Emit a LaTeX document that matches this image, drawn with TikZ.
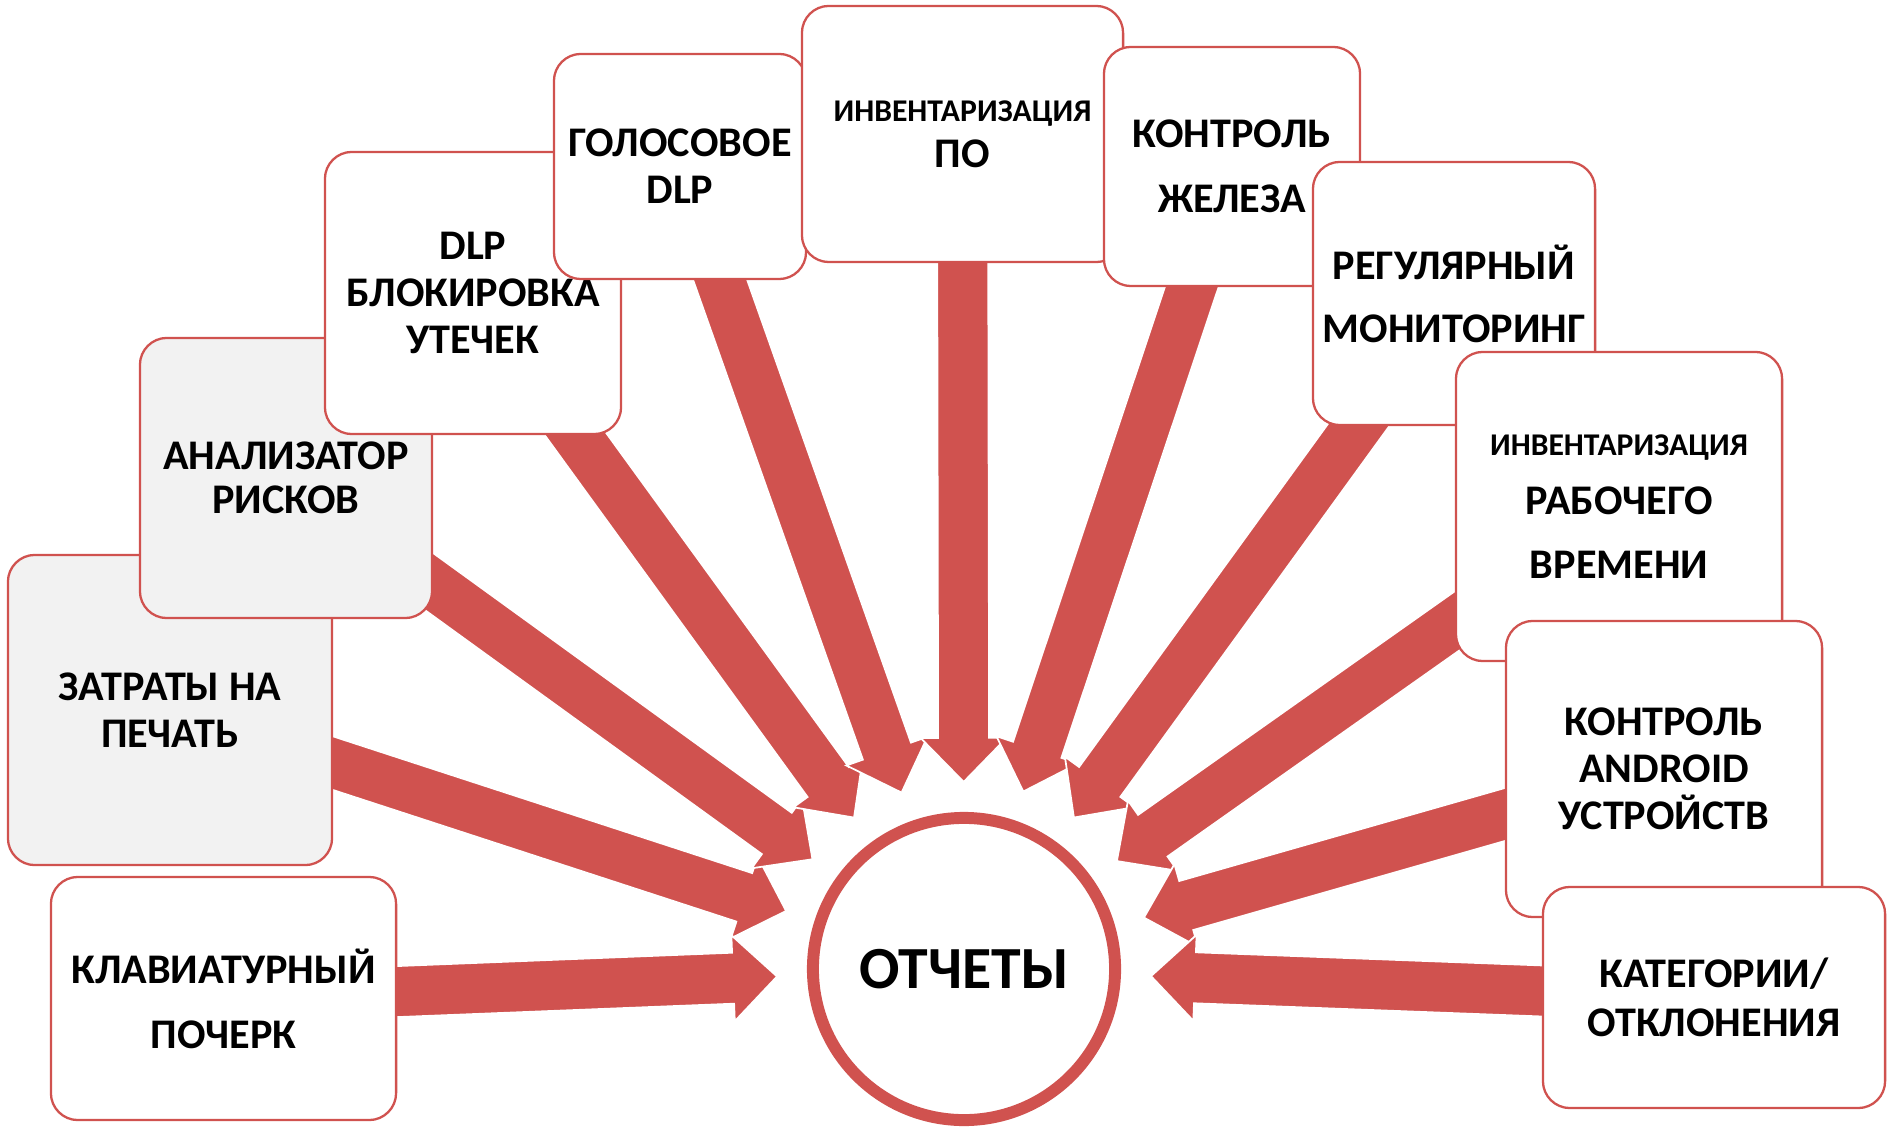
\documentclass[tikz,border=0pt]{standalone}
\usepackage{fontspec}
\setmainfont{Carlito}
\usepackage{tikz}
\usetikzlibrary{calc,backgrounds}
\definecolor{accent}{RGB}{208,82,79}
\definecolor{paper}{RGB}{242,242,242}
\tikzset{card/.style={rectangle,draw=accent,line width=0.65pt,rounded corners=0.27cm,fill=white,align=center,inner sep=0pt,font=\bfseries\fontsize{12}{13.3}\selectfont}}
\tikzset{arr/.style={fill=accent,draw=white,line width=0.5pt}}
\newcommand{\tinyline}[1]{{\fontsize{9}{10}\selectfont #1}}
\newcommand{\blockarrow}[1]{%
  \coordinate (hb) at ($(rep.center)!2.31cm!(#1.center)$);
  \coordinate (tp) at ($(rep.center)!1.87cm!(#1.center)$);
  \filldraw[arr] ($(#1.center)!0.255cm!90:(rep.center)$) -- ($(hb)!0.255cm!90:(rep.center)$)
    -- ($(hb)!0.43cm!90:(rep.center)$) -- (tp) -- ($(hb)!0.43cm!-90:(rep.center)$)
    -- ($(hb)!0.255cm!-90:(rep.center)$) -- ($(#1.center)!0.255cm!-90:(rep.center)$) -- cycle;}
\begin{document}
\begin{tikzpicture}[x=0.01cm,y=-0.01cm]
        \useasboundingbox (0,0) rectangle (1892,1131);

        \node[card,fill=paper,minimum width=3.24cm,minimum height=3.10cm] (zat) at (170,710) {ЗАТРАТЫ НА\\ПЕЧАТЬ};
        \node[card,minimum width=3.45cm,minimum height=2.43cm,font=\bfseries\fontsize{12}{18.5}\selectfont] (klav) at (223.5,998.5) {КЛАВИАТУРНЫЙ\\ПОЧЕРК};
        \node[card,fill=paper,minimum width=2.92cm,minimum height=2.80cm,font=\bfseries\fontsize{12}{12.4}\selectfont] (anal) at (286,478) {АНАЛИЗАТОР\\РИСКОВ};
        \node[card,minimum width=2.96cm,minimum height=2.82cm] (dlp) at (473,293) {DLP\\БЛОКИРОВКА\\УТЕЧЕК};
        \node[card,minimum width=2.52cm,minimum height=2.25cm] (golos) at (680,166.5) {ГОЛОСОВОЕ\\DLP};
        \node[card,minimum width=3.21cm,minimum height=2.56cm,font=\bfseries\fontsize{12}{13.2}\selectfont] (invpo) at (962.5,134) {\tinyline{ИНВЕНТАРИЗАЦИЯ}\\ПО};
        \node[card,minimum width=2.56cm,minimum height=2.39cm,font=\bfseries\fontsize{12}{18.5}\selectfont] (zhel) at (1232,166.5) {КОНТРОЛЬ\\ЖЕЛЕЗА};
        \node[card,minimum width=2.82cm,minimum height=2.63cm,font=\bfseries\fontsize{12}{17.9}\selectfont] (reg) at (1454,293.5) {РЕГУЛЯРНЫЙ\\МОНИТОРИНГ};
        \node[card,minimum width=3.26cm,minimum height=3.09cm,font=\bfseries\fontsize{12}{16.6}\selectfont] (invrv) at (1619,506.5) {\tinyline{ИНВЕНТАРИЗАЦИЯ}\\РАБОЧЕГО\\[1.6pt]ВРЕМЕНИ};
        \node[card,minimum width=3.16cm,minimum height=2.96cm] (andr) at (1664,769) {КОНТРОЛЬ\\ANDROID\\УСТРОЙСТВ};
        \node[card,minimum width=3.42cm,minimum height=2.21cm,font=\bfseries\fontsize{12}{13.9}\selectfont] (kat) at (1714,997.5) {КАТЕГОРИИ/\\ОТКЛОНЕНИЯ};

        \node[circle,draw=accent,line width=3.4pt,fill=white,minimum size=3.02cm,inner sep=0pt,font=\bfseries\fontsize{17}{20}\selectfont] (rep) at (964,969) {ОТЧЕТЫ};

        \begin{pgfonlayer}{background}
        \foreach \b in {zat,klav,anal,dlp,golos,invpo,zhel,reg,invrv,andr,kat}
            {\blockarrow{\b}}
        \end{pgfonlayer}
    \end{tikzpicture}
\end{document}
